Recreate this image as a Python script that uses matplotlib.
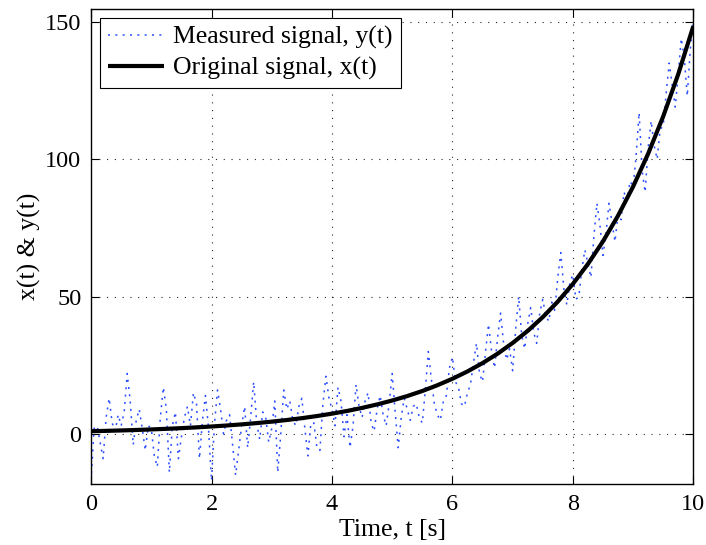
import matplotlib
matplotlib.use("Agg")
import matplotlib.pyplot as plt

t_meas = [round(0.05 * i, 2) for i in range(201)]
y_meas = [-17, 2, 3, -3, -9, 6, 13, 4, 1, 7,
          3, 8, 22, 12, -4, 5, 9, 2, -6, 3,
          2, -8, -12, 6, 17, 9, -14, 3, 8, -9,
          -1, 6, 10, 3, 15, 11, -9, 5, 14, 2,
          -17, 4, 16, 9, 0, 5, 7, -4, -15, -6,
          3, 10, -5, 6, 19, 4, -2, 8, 6, -3,
          2, 12, -14, 0, 16, 9, 12, 5, 3, 10,
          13, 2, -8, 4, 4, -5, -6, 11, 21, 13,
          9, 3, 17, 12, -1, 7, -5, 3, 18, 10,
          6, 12, 15, 4, 1, 9, 14, 7, 3, 11,
          22, 8, -5, 6, 13, 9, 5, 10, 11, 6,
          4, 16, 30, 20, 11, 7, 5, 12, 14, 24,
          28, 19, 17, 11, 10, 15, 18, 26, 33, 22,
          19, 30, 40, 30, 24, 35, 44, 33, 27, 31,
          23, 38, 50, 36, 31, 40, 46, 37, 33, 44,
          49, 43, 41, 48, 45, 57, 66, 53, 47, 55,
          58, 49, 50, 60, 67, 62, 57, 72, 84, 76,
          65, 73, 84, 77, 70, 80, 78, 88, 85, 92,
          90, 101, 117, 96, 88, 104, 114, 105, 100, 111,
          112, 124, 135, 127, 119, 131, 144, 137, 123, 140,
          151]

# Original signal x(t), read every 0.25 s
t_orig = [0.25 * i for i in range(41)]
x_orig = [1.0, 1.13, 1.28, 1.45, 1.65, 1.87, 2.12, 2.4, 2.72, 3.08,
          3.49, 3.96, 4.48, 5.08, 5.75, 6.52, 7.39, 8.37, 9.49, 10.75,
          12.18, 13.8, 15.64, 17.73, 20.09, 22.76, 25.79, 29.22, 33.12, 37.52,
          42.52, 48.18, 54.6, 61.87, 70.11, 79.44, 90.02, 102.0, 115.58, 130.97,
          148.41]

x_ticks = [0, 2, 4, 6, 8, 10]
y_ticks = [0, 50, 100, 150]

plt.rcParams['font.family'] = ['Liberation Serif', 'DejaVu Serif']

fig = plt.figure(figsize=(7.06, 5.45), dpi=100)
ax = fig.add_axes([0.129, 0.112, 0.853, 0.871])

ax.plot(t_meas, y_meas, color='#2a4cff', linewidth=1.1, dashes=(1.3, 3.5),
        label='Measured signal, y(t)')
ax.plot(t_orig, x_orig, color='black', linewidth=3.0, solid_capstyle='butt',
        label='Original signal, x(t)')

ax.set_xlim(0, 10)
ax.set_ylim(-18.2, 154.6)
ax.set_xticks(x_ticks)
ax.set_yticks(y_ticks)
ax.tick_params(direction='in', length=6, width=0.8, top=True, right=True,
               labelsize=17.5, pad=7)
ax.grid(True, color='black', linewidth=0.8, dashes=(1, 6), alpha=0.85)
for s in ax.spines.values():
    s.set_linewidth(1.0)

ax.set_xlabel('Time, t [s]', fontsize=18.5, labelpad=3)
ax.set_ylabel('x(t) & y(t)', fontsize=18.5, labelpad=3)

leg = ax.legend(loc='upper left', fontsize=18.5, frameon=True, fancybox=False,
                edgecolor='black', framealpha=1.0, borderpad=0.3,
                handlelength=2.2, handletextpad=0.35, labelspacing=0.3,
                borderaxespad=0.35)
leg.get_frame().set_linewidth(0.8)

fig.savefig('out.png', dpi=100)
